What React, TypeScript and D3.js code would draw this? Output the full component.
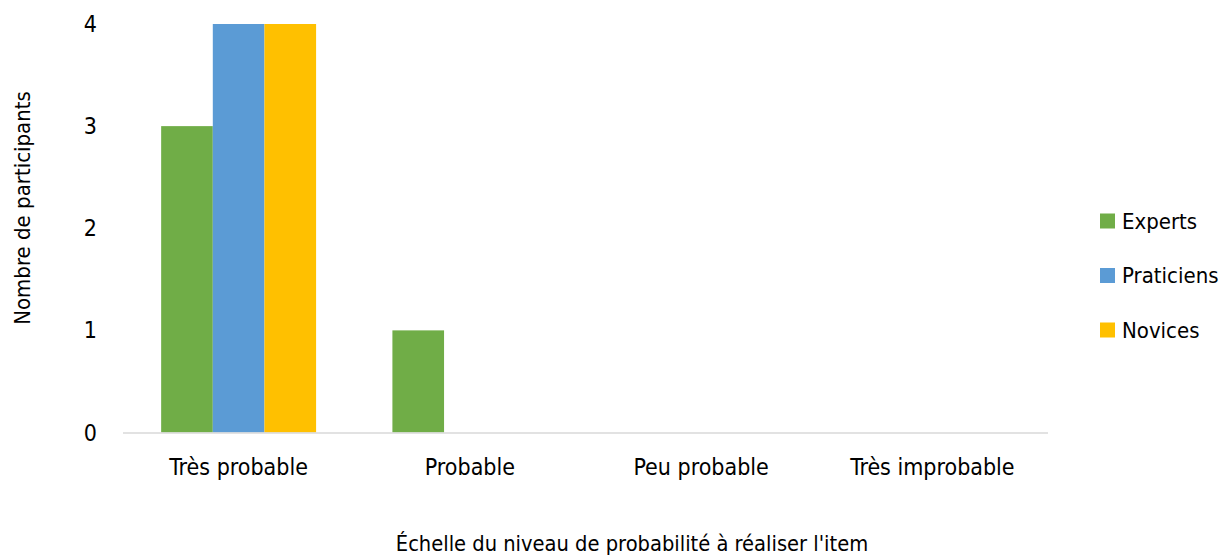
import React from "react";
import * as d3 from "d3";

const categories = ["Très probable", "Probable", "Peu probable", "Très improbable"];
const seriesNames = ["Experts", "Praticiens", "Novices"];
const experts = [3, 1, 0, 0];
const praticiens = [4, 0, 0, 0];
const novices = [4, 0, 0, 0];
const yTicks = [0, 1, 2, 3, 4];
const colors = ["#70AD47", "#5B9BD5", "#FFC000"];
const yTitle = "Nombre de participants";
const xTitle = "Échelle du niveau de probabilité à réaliser l'item";

const W = 1225;
const H = 555;
const FONT = "'Liberation Sans Narrow', 'DejaVu Sans Condensed', 'Arial Narrow', sans-serif";

export default function App() {
  const series = [experts, praticiens, novices];
  const plotLeft = 123;
  const plotRight = 1048;
  const x0 = d3.scaleBand<string>().domain(categories).range([plotLeft, plotRight]).paddingInner(0.33).paddingOuter(0.165);
  const x1 = d3.scaleBand<string>().domain(seriesNames).range([0, x0.bandwidth()]);
  const y = d3.scaleLinear().domain([0, 4]).range([432.5, 24]);

  return (
    <svg width={W} height={H} style={{ position: "absolute", left: 0, top: 0, background: "#fff" }} fontFamily={FONT}>
      <rect x={0} y={0} width={W} height={H} fill="#fff" />
      {categories.map((c, i) =>
        series.map((s, j) => {
          const v = s[i];
          if (v <= 0) return null;
          return (
            <rect
              key={c + j}
              x={(x0(c) ?? 0) + (x1(seriesNames[j]) ?? 0)}
              y={y(v)}
              width={x1.bandwidth()}
              height={y(0) - y(v)}
              fill={colors[j]}
            />
          );
        })
      )}
      <line x1={plotLeft} x2={plotRight} y1={y(0) + 0.5} y2={y(0) + 0.5} stroke="#D9D9D9" strokeWidth={1.5} />
      {yTicks.map((t) => (
        <text key={t} x={97} y={y(t)} textAnchor="end" dominantBaseline="central" fontSize={23} fill="#000">
          {t}
        </text>
      ))}
      {categories.map((c) => (
        <text key={c} x={(x0(c) ?? 0) + x0.bandwidth() / 2} y={467} textAnchor="middle" dominantBaseline="central" fontSize={23} fill="#000">
          {c}
        </text>
      ))}
      <text x={632} y={543} textAnchor="middle" dominantBaseline="central" fontSize={21.7} fill="#000">
        {xTitle}
      </text>
      <text transform={`translate(22,208) rotate(-90)`} textAnchor="middle" dominantBaseline="central" fontSize={22} fill="#000">
        {yTitle}
      </text>
      {seriesNames.map((n, j) => (
        <g key={n} transform={`translate(1100,${221 + j * 54.5})`}>
          <rect x={0} y={-7.5} width={15} height={15} fill={colors[j]} />
          <text x={22} y={0} dominantBaseline="central" fontSize={22} fill="#000">
            {n}
          </text>
        </g>
      ))}
    </svg>
  );
}
